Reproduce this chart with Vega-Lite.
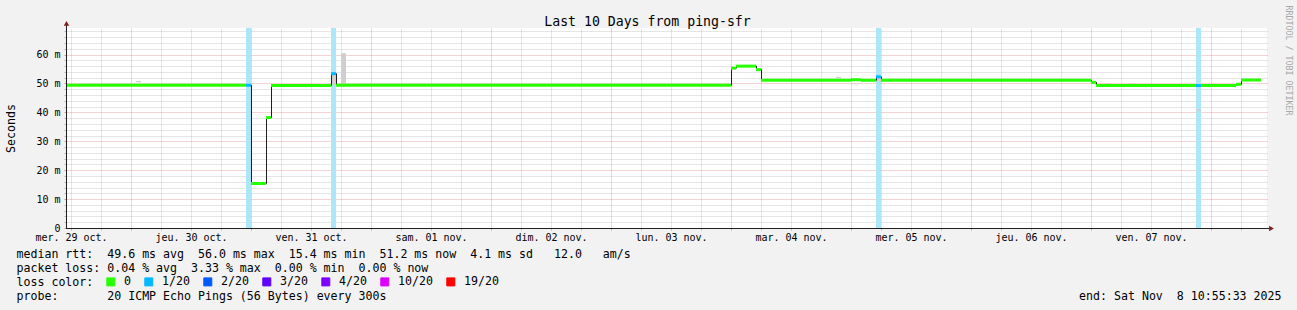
{
  "$schema": "https://vega.github.io/schema/vega-lite/v6.json",
  "width": 1201,
  "height": 200,
  "autosize": {"type": "none"},
  "padding": {"left": 66, "top": 28, "right": 30, "bottom": 82},
  "background": "#f2f2f2",
  "datasets": {
    "seg": [
      {"t": 11, "t2": 47, "median": 49.4, "loss": "0"},
      {"t": 47, "t2": 48, "median": 49.4, "loss": "1/20"},
      {"t": 48, "t2": 51, "median": 15.4, "loss": "0"},
      {"t": 51, "t2": 52, "median": 38.2, "loss": "0"},
      {"t": 52, "t2": 64, "median": 49.3, "loss": "0"},
      {"t": 64, "t2": 65, "median": 53.4, "loss": "1/20"},
      {"t": 65, "t2": 144, "median": 49.4, "loss": "0"},
      {"t": 144, "t2": 145, "median": 55.3, "loss": "0"},
      {"t": 145, "t2": 149, "median": 56.0, "loss": "0"},
      {"t": 149, "t2": 150, "median": 54.8, "loss": "0"},
      {"t": 150, "t2": 168, "median": 51.1, "loss": "0"},
      {"t": 168, "t2": 170, "median": 51.3, "loss": "0"},
      {"t": 170, "t2": 173, "median": 51.1, "loss": "0"},
      {"t": 173, "t2": 174, "median": 52.3, "loss": "1/20"},
      {"t": 174, "t2": 216, "median": 51.1, "loss": "0"},
      {"t": 216, "t2": 217, "median": 50.4, "loss": "0"},
      {"t": 217, "t2": 237, "median": 49.3, "loss": "0"},
      {"t": 237, "t2": 238, "median": 49.3, "loss": "1/20"},
      {"t": 238, "t2": 245, "median": 49.3, "loss": "0"},
      {"t": 245, "t2": 246, "median": 49.7, "loss": "0"},
      {"t": 246, "t2": 250, "median": 51.2, "loss": "0"}
    ],
    "smoke": [
      {"t": 25, "t2": 26, "lo": 50.4, "hi": 50.9},
      {"t": 64, "t2": 65, "lo": 49.4, "hi": 53.0},
      {"t": 66, "t2": 67, "lo": 49.6, "hi": 60.5},
      {"t": 165, "t2": 166, "lo": 51.8, "hi": 52.3},
      {"t": 173, "t2": 174, "lo": 50.8, "hi": 52.0},
      {"t": 219, "t2": 220, "lo": 49.6, "hi": 50.0},
      {"t": 224, "t2": 225, "lo": 49.6, "hi": 50.0},
      {"t": 237, "t2": 238, "lo": 40.5, "hi": 41.1},
      {"t": 243, "t2": 244, "lo": 49.0, "hi": 49.4},
      {"t": 245, "t2": 246, "lo": 49.6, "hi": 50.3}
    ],
    "anchor": [{}]
  },
  "layer": [
    {
      "data": {"name": "seg"},
      "transform": [{"filter": "datum.loss != '0'"}],
      "mark": {"type": "rect", "color": "#abe6f9"},
      "encoding": {
        "x": {
          "field": "t", "type": "quantitative",
          "scale": {"domain": [11, 251.2], "nice": false, "zero": false},
          "axis": {
            "orient": "bottom",
            "values": [12,18,30,36,42,54,60,66,78,84,90,102,108,114,126,132,138,150,156,162,174,180,186,198,204,210,222,228,234,246],
            "grid": true, "gridColor": "#8f8f8f", "gridOpacity": 0.45, "gridDash": [1, 1],
            "ticks": true, "tickColor": "#8f8f8f", "tickOpacity": 0.6, "tickSize": 2,
            "labels": false, "domain": false,
            "title": [
              "median\u00a0rtt:\u00a0\u00a049.6\u00a0ms\u00a0avg\u00a0\u00a056.0\u00a0ms\u00a0max\u00a0\u00a015.4\u00a0ms\u00a0min\u00a0\u00a051.2\u00a0ms\u00a0now\u00a0\u00a04.1\u00a0ms\u00a0sd\u00a0\u00a0\u00a012.0\u00a0\u00a0\u00a0am/s",
              "packet\u00a0loss:\u00a00.04\u00a0%\u00a0avg\u00a0\u00a03.33\u00a0%\u00a0max\u00a0\u00a00.00\u00a0%\u00a0min\u00a0\u00a00.00\u00a0%\u00a0now",
              "loss\u00a0color:",
              "probe:\u00a0\u00a0\u00a0\u00a0\u00a0\u00a0\u00a020\u00a0ICMP\u00a0Echo\u00a0Pings\u00a0(56\u00a0Bytes)\u00a0every\u00a0300s"
            ],
            "titleX": -50, "titleY": 29.5, "titleAlign": "left", "titleBaseline": "alphabetic",
            "titleFontSize": 11.6, "titleLineHeight": 14
          }
        },
        "x2": {"field": "t2"}
      }
    },
    {
      "data": {"name": "smoke"},
      "mark": {"type": "rect", "color": "#cfcfcf"},
      "encoding": {
        "x": {
          "field": "t", "type": "quantitative",
          "scale": {"domain": [11, 251.2], "nice": false, "zero": false},
          "axis": {
            "orient": "bottom",
            "values": [24,48,72,96,120,144,168,192,216,240],
            "grid": true, "gridColor": "#de4f4f", "gridOpacity": 0.5, "gridDash": [1, 1],
            "ticks": true, "tickColor": "#de4f4f", "tickOpacity": 0.6, "tickSize": 2,
            "labels": false, "domain": false,
            "title": "end:\u00a0Sat\u00a0Nov\u00a0\u00a08\u00a010:55:33\u00a02025",
            "titleX": 1215, "titleY": 71.5, "titleAlign": "right", "titleBaseline": "alphabetic",
            "titleFontSize": 11.6
          }
        },
        "x2": {"field": "t2"},
        "y": {
          "field": "lo", "type": "quantitative",
          "scale": {"domain": [0, 69.2], "nice": false},
          "axis": {
            "orient": "left",
            "values": [2,4,6,8,12,14,16,18,22,24,26,28,32,34,36,38,42,44,46,48,52,54,56,58,62,64,66,68],
            "grid": true, "gridColor": "#8f8f8f", "gridOpacity": 0.45, "gridDash": [1, 1],
            "ticks": true, "tickColor": "#8f8f8f", "tickOpacity": 0.6, "tickSize": 2,
            "labels": false, "domain": false, "title": null
          }
        },
        "y2": {"field": "hi"}
      }
    },
    {
      "data": {"name": "seg"},
      "mark": {"type": "line", "interpolate": "step-after", "color": "#202020", "strokeWidth": 1, "xOffset": 0.5},
      "encoding": {
        "x": {
          "field": "t", "type": "quantitative",
          "scale": {"domain": [11, 251.2], "nice": false, "zero": false},
          "axis": {
            "orient": "bottom",
            "values": [12,36,60,84,108,132,156,180,204,228],
            "grid": false, "ticks": false, "domain": false,
            "labelExpr": "['mer. 29 oct.','jeu. 30 oct.','ven. 31 oct.','sam. 01 nov.','dim. 02 nov.','lun. 03 nov.','mar. 04 nov.','mer. 05 nov.','jeu. 06 nov.','ven. 07 nov.'][round((datum.value-12)/24)]",
            "labelBaseline": "top", "labelPadding": 4, "labelFlush": false, "labelOverlap": false,
            "labelFontSize": 10, "title": null
          }
        },
        "y": {
          "field": "median", "type": "quantitative",
          "scale": {"domain": [0, 69.2], "nice": false},
          "axis": {
            "orient": "left",
            "values": [0,10,20,30,40,50,60],
            "grid": true, "gridColor": "#de4f4f", "gridOpacity": 0.5, "gridDash": [1, 1],
            "ticks": true, "tickColor": "#de4f4f", "tickOpacity": 0.6, "tickSize": 2,
            "domain": false,
            "labelExpr": "datum.value == 0 ? '0\u00a0\u00a0' : datum.value + ' m'",
            "labelPadding": 4, "labelFontSize": 10, "labelBaseline": "middle", "labelFlush": false, "labelOverlap": false,
            "title": "Seconds", "titleX": -55, "titleY": 100, "titleAngle": 270,
            "titleAlign": "center", "titleBaseline": "middle", "titleFontSize": 11.6
          }
        }
      }
    },
    {
      "data": {"name": "seg"},
      "mark": {"type": "rule", "strokeWidth": 3, "strokeCap": "butt"},
      "encoding": {
        "x": {
          "field": "t", "type": "quantitative",
          "scale": {"domain": [11, 251.2], "nice": false, "zero": false},
          "axis": {
            "orient": "top", "grid": false, "ticks": false, "labels": false, "domain": false,
            "title": "Last 10 Days from ping-sfr",
            "titleX": 581, "titleY": -3, "titleAlign": "center", "titleBaseline": "alphabetic",
            "titleFontSize": 13.2, "titleAngle": 0
          }
        },
        "x2": {"field": "t2"},
        "y": {
          "field": "median", "type": "quantitative",
          "scale": {"domain": [0, 69.2], "nice": false},
          "axis": {
            "orient": "right", "grid": false, "ticks": false, "labels": false, "domain": false,
            "title": "RRDTOOL / TOBI OETIKER",
            "titleX": 20.5, "titleY": 32, "titleAngle": 90, "titleAlign": "center", "titleBaseline": "middle",
            "titleFontSize": 8.3, "titleColor": "#a8a8a8"
          }
        },
        "color": {
          "field": "loss", "type": "nominal",
          "scale": {
            "domain": ["0", "1/20", "2/20", "3/20", "4/20", "10/20", "19/20"],
            "range": ["#26ff00", "#00b8ff", "#0059ff", "#5e00ff", "#7e00ff", "#dd00ff", "#ff0000"]
          },
          "legend": {
            "orient": "none", "legendX": 39, "legendY": 248, "direction": "horizontal",
            "title": null, "padding": 0,
            "symbolType": "square", "symbolSize": 64, "symbolStrokeWidth": 1, "symbolStrokeColor": "#000000",
            "labelFont": "DejaVu Sans Mono", "labelFontSize": 11.6, "labelColor": "#000000",
            "labelOffset": 7.5, "columnPadding": 10, "labelLimit": 0,
            "encode": {
              "symbols": {
                "update": {
                  "fill": {"scale": "color", "field": "value"},
                  "stroke": {"value": "#000000"},
                  "strokeWidth": {"value": 1},
                  "opacity": {"value": 1},
                  "fillOpacity": {"value": 1}
                }
              }
            }
          }
        }
      }
    },
    {
      "data": {"name": "anchor"},
      "mark": {"type": "rule", "color": "#1f1f1f", "strokeWidth": 1},
      "encoding": {
        "x": {"datum": 11.1, "type": "quantitative", "scale": {"domain": [11, 251.2], "nice": false, "zero": false}, "axis": null},
        "y": {"datum": 0, "type": "quantitative", "scale": {"domain": [0, 69.2], "nice": false}, "axis": null},
        "y2": {"datum": 70.6}
      }
    },
    {
      "data": {"name": "anchor"},
      "mark": {"type": "rule", "color": "#1f1f1f", "strokeWidth": 1},
      "encoding": {
        "x": {"datum": 11, "type": "quantitative", "scale": {"domain": [11, 251.2], "nice": false, "zero": false}, "axis": null},
        "x2": {"datum": 252},
        "y": {"datum": -0.17, "type": "quantitative", "scale": {"domain": [0, 69.2], "nice": false}, "axis": null}
      }
    },
    {
      "data": {"name": "anchor"},
      "mark": {"type": "point", "shape": "triangle-up", "filled": true, "color": "#801f1f", "size": 30, "opacity": 1},
      "encoding": {
        "x": {"datum": 11.1, "type": "quantitative", "scale": {"domain": [11, 251.2], "nice": false, "zero": false}, "axis": null},
        "y": {"datum": 70.8, "type": "quantitative", "scale": {"domain": [0, 69.2], "nice": false}, "axis": null}
      }
    },
    {
      "data": {"name": "anchor"},
      "mark": {"type": "point", "shape": "triangle-right", "filled": true, "color": "#801f1f", "size": 30, "opacity": 1},
      "encoding": {
        "x": {"datum": 252.1, "type": "quantitative", "scale": {"domain": [11, 251.2], "nice": false, "zero": false}, "axis": null},
        "y": {"datum": -0.17, "type": "quantitative", "scale": {"domain": [0, 69.2], "nice": false}, "axis": null}
      }
    }
  ],
  "resolve": {"axis": {"x": "independent", "y": "independent"}},
  "config": {
    "view": {"stroke": null, "fill": "#ffffff"},
    "axis": {
      "labelFont": "DejaVu Sans Mono", "titleFont": "DejaVu Sans Mono",
      "labelColor": "#000000", "titleColor": "#000000", "titleFontWeight": "normal"
    }
  }
}
